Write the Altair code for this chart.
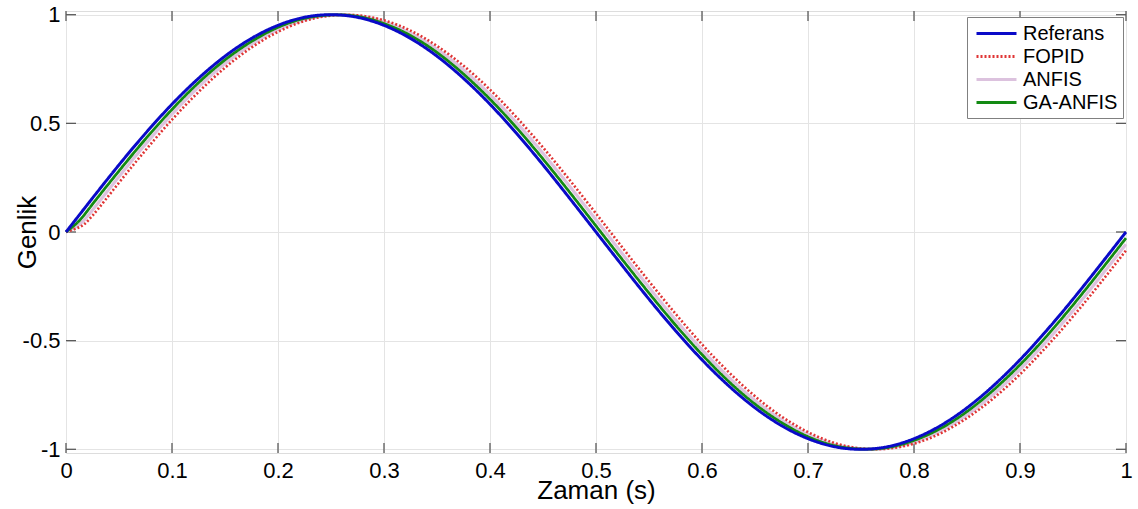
import altair as alt
import pandas as pd

# ---- data ----
time_s = [0, 0.0125, 0.025, 0.05, 0.075, 0.1, 0.125, 0.15, 0.175, 0.2, 0.225, 0.25,
          0.275, 0.3, 0.325, 0.35, 0.375, 0.4, 0.425, 0.45, 0.475, 0.5,
          0.525, 0.55, 0.575, 0.6, 0.625, 0.65, 0.675, 0.7, 0.725, 0.75,
          0.775, 0.8, 0.825, 0.85, 0.875, 0.9, 0.925, 0.95, 0.975, 1.0]

referans = [0, 0.078, 0.156, 0.309, 0.454, 0.588, 0.707, 0.809, 0.891, 0.951, 0.988, 1.000,
            0.988, 0.951, 0.891, 0.809, 0.707, 0.588, 0.454, 0.309, 0.156, 0.000,
            -0.156, -0.309, -0.454, -0.588, -0.707, -0.809, -0.891, -0.951, -0.988, -1.000,
            -0.988, -0.951, -0.891, -0.809, -0.707, -0.588, -0.454, -0.309, -0.156, 0.000]

fopid = [0, 0.022, 0.075, 0.227, 0.376, 0.517, 0.644, 0.756, 0.849, 0.921, 0.971, 0.996,
         0.997, 0.974, 0.927, 0.856, 0.765, 0.655, 0.528, 0.389, 0.240, 0.085,
         -0.072, -0.227, -0.376, -0.517, -0.644, -0.756, -0.849, -0.921, -0.971, -0.996,
         -0.997, -0.974, -0.927, -0.856, -0.765, -0.655, -0.528, -0.389, -0.240, -0.085]

anfis = [0, 0.035, 0.101, 0.255, 0.404, 0.542, 0.667, 0.775, 0.864, 0.932, 0.977, 0.998,
         0.995, 0.967, 0.915, 0.841, 0.746, 0.632, 0.503, 0.362, 0.211, 0.056,
         -0.101, -0.255, -0.404, -0.542, -0.667, -0.775, -0.864, -0.932, -0.977, -0.998,
         -0.995, -0.967, -0.915, -0.841, -0.746, -0.632, -0.503, -0.362, -0.211, -0.056]

ga_anfis = [0, 0.052, 0.128, 0.281, 0.428, 0.564, 0.687, 0.792, 0.877, 0.942, 0.983, 0.999,
            0.992, 0.959, 0.904, 0.826, 0.727, 0.611, 0.480, 0.336, 0.184, 0.028,
            -0.128, -0.281, -0.428, -0.564, -0.687, -0.792, -0.877, -0.942, -0.983, -0.999,
            -0.992, -0.959, -0.904, -0.826, -0.727, -0.611, -0.480, -0.336, -0.184, -0.028]

x_ticks = [0, 0.1, 0.2, 0.3, 0.4, 0.5, 0.6, 0.7, 0.8, 0.9, 1]
y_ticks = [-1, -0.5, 0, 0.5, 1]

series_names = ["Referans", "FOPID", "ANFIS", "GA-ANFIS"]
series_colors = ["#0a0ac8", "#e03535", "#dcc2de", "#138a13"]
series_dash = [[1, 0], [2, 2], [1, 0], [1, 0]]
series_width = {"Referans": 3.0, "FOPID": 2.6, "ANFIS": 3.2, "GA-ANFIS": 2.8}
draw_order = ["ANFIS", "FOPID", "GA-ANFIS", "Referans"]

rows = []
for name, vals in zip(series_names, [referans, fopid, anfis, ga_anfis]):
    for t, v in zip(time_s, vals):
        rows.append({"t": t, "v": v, "seri": name})
df = pd.DataFrame(rows)
df_xt = pd.DataFrame({"t": x_ticks})
df_yt = pd.DataFrame({"v": y_ticks})

W, H = 1060, 442
FONT = "Liberation Sans"

xs = alt.Scale(domain=[0, 1], nice=False, zero=False)
ys = alt.Scale(domain=[-1.017, 1.017], nice=False, zero=False)

x_axis = alt.Axis(values=x_ticks, format="~g", title="Zaman (s)", grid=True,
                  gridColor="#e4e4e4", gridWidth=1, ticks=False, domain=False,
                  labelFontSize=22, labelColor="black", labelFont=FONT,
                  labelPadding=24, labelBaseline="alphabetic", labelFlush=False,
                  titleFontSize=26, titleFont=FONT, titleFontWeight="normal",
                  titleColor="black", titleY=45.5, titleBaseline="alphabetic")
y_axis = alt.Axis(values=y_ticks, format="~g", title="Genlik", grid=True,
                  gridColor="#e4e4e4", gridWidth=1, ticks=False, domain=False,
                  labelFontSize=22, labelColor="black", labelFont=FONT,
                  labelPadding=6, labelFlush=False,
                  labelExpr="replace(datum.label, '\u2212', '-')",
                  titleFontSize=26, titleFont=FONT, titleFontWeight="normal",
                  titleColor="black", titleX=-39, titleY=221, titleAngle=270,
                  titleAlign="center", titleBaseline="middle")

X = alt.X("t:Q", scale=xs, axis=x_axis)
Y = alt.Y("v:Q", scale=ys, axis=y_axis)

legend = alt.Legend(title=None, orient="none", legendX=901, legendY=6,
                    fillColor="white", strokeColor="#808080", padding=5,
                    labelFontSize=20, labelFont=FONT, labelColor="black",
                    symbolType="M-0.7,0H3.3", symbolSize=400, symbolStrokeWidth=3,
                    labelOffset=28, rowPadding=1)

color = alt.Color("seri:N", scale=alt.Scale(domain=series_names, range=series_colors),
                  legend=legend)
dash = alt.StrokeDash("seri:N", scale=alt.Scale(domain=series_names, range=series_dash),
                      legend=legend)

layers = []
tick_col = "#5a5a5a"
layers.append(alt.Chart(df_xt).mark_rule(color=tick_col, strokeWidth=1.3).encode(
    x=X, y=alt.value(H), y2=alt.value(H - 10)))
layers.append(alt.Chart(df_xt).mark_rule(color=tick_col, strokeWidth=1.3).encode(
    x=X, y=alt.value(0), y2=alt.value(10)))
layers.append(alt.Chart(df_yt).mark_rule(color=tick_col, strokeWidth=1.3).encode(
    y=Y, x=alt.value(0), x2=alt.value(10)))
layers.append(alt.Chart(df_yt).mark_rule(color=tick_col, strokeWidth=1.3).encode(
    y=Y, x=alt.value(W), x2=alt.value(W - 10)))

for name in draw_order:
    layers.append(
        alt.Chart(df).transform_filter(alt.datum.seri == name)
        .mark_line(interpolate="natural", strokeWidth=series_width[name], strokeCap="butt")
        .encode(x=X, y=Y, color=color, strokeDash=dash, order=alt.Order("t:Q"))
    )

chart = alt.layer(*layers).properties(
    width=W, height=H,
    autosize=alt.AutoSizeParams(type="none"),
    padding={"left": 66, "top": 11, "right": 12, "bottom": 56},
    background="white",
).configure_view(stroke="#808080", strokeWidth=1.5).configure(font=FONT)

chart.save("out.html", embed_options={"renderer": "svg", "actions": False})
